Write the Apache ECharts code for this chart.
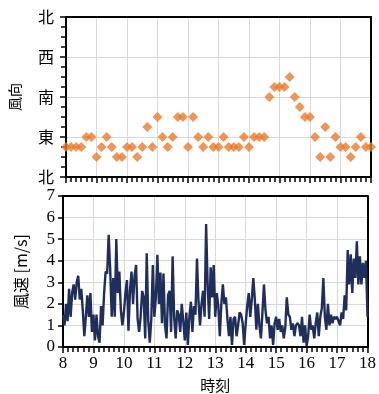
<!DOCTYPE html>
<html>
<head>
<meta charset="utf-8">
<script src="https://cdn.jsdelivr.net/npm/echarts@6/dist/echarts.min.js"></script>
<style>
  html, body { margin: 0; padding: 0; background: #fff; }
  #chart { width: 379px; height: 394px; }
</style>
</head>
<body>
<div id="chart"></div>
<script>
// wind direction, every 10 min from 8:00 to 18:00 (degrees, 0 = north, 90 = east)
const dirValues = [
  67.5, 67.5, 67.5, 67.5, 90, 90,
  45, 67.5, 90, 67.5, 45, 45,
  67.5, 67.5, 45, 67.5, 112.5, 67.5,
  135, 90, 67.5, 90, 135, 135,
  67.5, 135, 90, 67.5, 90, 67.5,
  67.5, 90, 67.5, 67.5, 67.5, 90,
  67.5, 90, 90, 90, 180, 202.5,
  202.5, 202.5, 225, 180, 157.5, 135,
  135, 90, 45, 112.5, 45, 90,
  67.5, 67.5, 45, 67.5, 90, 67.5,
  67.5
];

// wind speed, every 3 min from 8:00 to 18:00 (m/s)
const speedValues = [
  1.5, 1.0, 2.0, 1.2, 2.7, 1.4, 2.5, 2.9, 2.2, 3.0, 3.3, 2.2, 2.7, 1.7, 0.5, 1.4, 2.4, 1.4, 2.5, 0.7,
  1.5, 0.3, 1.5, 0.5, 0.2, 1.9, 1.0, 2.5, 3.5, 3.4, 5.2, 3.6, 1.4, 3.2, 1.4, 5.0, 2.5, 3.5, 1.7, 1.0,
  1.6, 2.5, 3.1, 0.75, 2.6, 3.5, 2.0, 3.3, 3.8, 1.3, 0.7, 1.4, 2.6, 2.3, 0.4, 4.35, 1.2, 0.2, 1.3, 3.8,
  1.4, 2.3, 4.27, 2.0, 3.45, 1.1, 3.4, 1.0, 0.4, 2.4, 2.6, 0.7, 4.2, 1.4, 0.4, 1.7, 1.5, 0.7, 2.0, 1.2,
  0.3, 1.6, 0.1, 1.4, 2.1, 0.7, 1.9, 1.5, 4.1, 2.1, 1.0, 2.0, 2.6, 1.4, 5.7, 2.9, 1.3, 3.7, 2.3, 3.8,
  1.4, 2.5, 1.9, 0.5, 2.0, 2.9, 2.0, 2.3, 1.3, 0.5, 1.4, 0.1, 1.3, 1.4, 0.5, 1.0, 1.6, 1.5, 1.1, 0.1,
  1.1, 1.9, 2.5, 1.4, 2.2, 3.2, 2.2, 0.8, 2.0, 1.0, 0.4, 1.6, 2.9, 1.7, 1.1, 1.4, 0.4, 1.0, 0.1, 1.1,
  1.4, 0.8, 1.3, 0.7, 1.0, 0.4, 0.9, 2.3, 1.5, 1.4, 0.8, 1.1, 0.5, 1.0, 1.1, 1.0, 0.5, 1.4, 0.2, 1.0,
  0.05, 0.5, 1.5, 0.8, 1.0, 0.4, 1.1, 1.6, 0.5, 1.4, 1.8, 3.2, 1.4, 0.8, 2.0, 1.0, 1.5, 1.1, 1.4, 1.3,
  1.4, 1.2, 1.0, 1.6, 1.3, 2.4, 1.7, 4.5, 2.9, 4.3, 2.5, 4.1, 3.2, 4.9, 2.9, 4.2, 2.9, 3.9, 3.2, 4.0,
  1.4
];

const dirLabels = ["北", "東", "南", "西", "北"]; // 0, 90, 180, 270, 360
const hourStart = 8;

const dirData = dirValues.map((v, i) => [hourStart + i / 6, v]);
const speedData = speedValues.map((v, i) => [hourStart + i / 20, v]);

const serif = "'Liberation Serif', 'DejaVu Serif', serif";
const cjk = "'Noto Sans CJK JP', sans-serif";

// gray grid lines, but not on the frame itself
const gridLine = { show: true, showMinLine: false, showMaxLine: false, lineStyle: { color: "#d9d9d9", width: 1 } };
const frameLine = { show: true, onZero: false, lineStyle: { color: "#000", width: 2 } };

const xAxisBase = {
  type: "value",
  min: 8,
  max: 18,
  interval: 1,
  axisLine: frameLine,
  axisTick: { show: true, length: 6, lineStyle: { color: "#000", width: 1.5 } },
  minorTick: { show: true, splitNumber: 6, length: 5, lineStyle: { color: "#000", width: 1.5 } },
  splitLine: gridLine
};

// plain axis used only to draw the top / right edge of a panel
function edgeAxis(gridIndex, position, min, max) {
  return {
    gridIndex: gridIndex,
    position: position,
    type: "value",
    min: min,
    max: max,
    axisLine: frameLine,
    axisTick: { show: false },
    axisLabel: { show: false },
    splitLine: { show: false }
  };
}

var chart = echarts.init(document.getElementById("chart"));

var option = {
  animation: false,
  grid: [
    { left: 63, top: 17, width: 308, height: 160 },
    { left: 63, top: 196, width: 308, height: 156 }
  ],
  xAxis: [
    Object.assign({}, xAxisBase, {
      gridIndex: 0,
      position: "bottom",
      axisLabel: { show: false }
    }),
    Object.assign({}, xAxisBase, {
      gridIndex: 1,
      position: "bottom",
      name: "時刻",
      nameLocation: "middle",
      nameGap: 31,
      nameTextStyle: { color: "#000", fontFamily: cjk, fontSize: 15 },
      axisLabel: { show: true, color: "#000", fontFamily: serif, fontSize: 17, margin: 8 }
    }),
    edgeAxis(0, "top", 8, 18),
    edgeAxis(1, "top", 8, 18)
  ],
  yAxis: [
    {
      gridIndex: 0,
      position: "left",
      type: "value",
      min: 0,
      max: 360,
      interval: 90,
      name: "風向",
      nameLocation: "middle",
      nameGap: 44,
      nameTextStyle: { color: "#000", fontFamily: cjk, fontSize: 14 },
      axisLine: frameLine,
      axisTick: { show: true, length: 6, lineStyle: { color: "#000", width: 1.5 } },
      minorTick: { show: true, splitNumber: 4, length: 5, lineStyle: { color: "#000", width: 1.5 } },
      axisLabel: {
        color: "#000",
        fontFamily: cjk,
        fontSize: 16,
        margin: 12,
        formatter: function (v) { return dirLabels[Math.round(v / 90)]; }
      },
      splitLine: gridLine
    },
    {
      gridIndex: 1,
      position: "left",
      type: "value",
      min: 0,
      max: 7,
      interval: 1,
      name: "風速 [m/s]",
      nameLocation: "middle",
      nameGap: 34,
      nameTextStyle: { color: "#000", fontFamily: cjk, fontSize: 16 },
      axisLine: frameLine,
      axisTick: { show: true, length: 5, lineStyle: { color: "#000", width: 1.5 } },
      axisLabel: { color: "#000", fontFamily: serif, fontSize: 17, margin: 8 },
      splitLine: gridLine
    },
    edgeAxis(0, "right", 0, 360),
    edgeAxis(1, "right", 0, 7)
  ],
  series: [
    {
      type: "scatter",
      xAxisIndex: 0,
      yAxisIndex: 0,
      symbol: "diamond",
      symbolSize: [10, 10],
      itemStyle: { color: "#EA7A2E" },
      data: dirData,
      z: 3
    },
    {
      type: "line",
      xAxisIndex: 1,
      yAxisIndex: 1,
      showSymbol: false,
      symbol: "none",
      lineStyle: { color: "#1F2E5A", width: 2.4 },
      data: speedData,
      z: 3
    }
  ]
};

chart.setOption(option);
</script>
</body>
</html>
